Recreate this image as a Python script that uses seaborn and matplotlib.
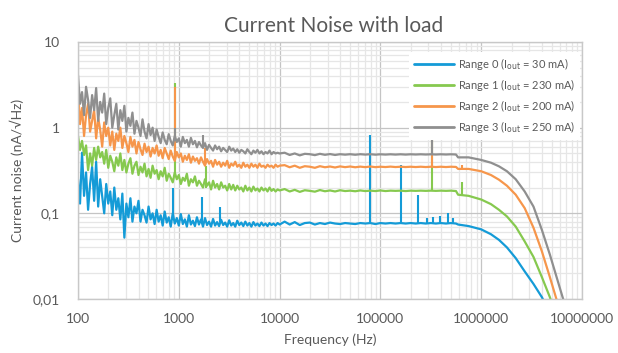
import numpy as np
import pandas as pd
import matplotlib
matplotlib.use("Agg")
import matplotlib.pyplot as plt
from matplotlib.ticker import LogLocator, NullFormatter
import seaborn as sns

# ---------------- data ----------------
series_names = ["Range 0 (I$_{\\mathrm{out}}$ = 30 mA)", "Range 1 (I$_{\\mathrm{out}}$ = 230 mA)",
                "Range 2 (I$_{\\mathrm{out}}$ = 200 mA)", "Range 3 (I$_{\\mathrm{out}}$ = 250 mA)"]
series_colors = ["#149bd7", "#86c94f", "#f6964b", "#8f8f8f"]

# noisy low-frequency part: 100 Hz .. 10 kHz (101 samples, log-spaced)
freq_low = np.logspace(2, 4, 101)
r0_low = [0.25, 0.13, 0.51, 0.16, 0.30, 0.11, 0.22, 0.35, 0.14, 0.40,
          0.12, 0.25, 0.16, 0.10, 0.22, 0.13, 0.18, 0.095, 0.20, 0.11,
          0.15, 0.085, 0.17, 0.052, 0.13, 0.09, 0.15, 0.08, 0.12, 0.10,
          0.14, 0.08, 0.11, 0.095, 0.078, 0.12, 0.085, 0.10, 0.075, 0.11,
          0.08, 0.095, 0.072, 0.105, 0.078, 0.09, 0.07, 0.10, 0.076, 0.088,
          0.072, 0.098, 0.075, 0.085, 0.07, 0.095, 0.074, 0.082, 0.071, 0.09,
          0.074, 0.085, 0.07, 0.088, 0.073, 0.08, 0.07, 0.086, 0.072, 0.079,
          0.071, 0.084, 0.073, 0.078, 0.07, 0.083, 0.072, 0.077, 0.07, 0.082,
          0.073, 0.078, 0.071, 0.08, 0.072, 0.077, 0.07, 0.079, 0.072, 0.076,
          0.071, 0.078, 0.072, 0.076, 0.071, 0.077, 0.073, 0.076, 0.072, 0.077, 0.074]
r1_low = [0.80, 0.55, 0.70, 0.48, 0.62, 0.32, 0.50, 0.36, 0.58, 0.42,
          0.60, 0.45, 0.52, 0.38, 0.55, 0.34, 0.47, 0.40, 0.31, 0.45,
          0.36, 0.50, 0.32, 0.42, 0.30, 0.38, 0.44, 0.29, 0.36, 0.40,
          0.28, 0.35, 0.30, 0.38, 0.27, 0.33, 0.26, 0.36, 0.29, 0.32,
          0.25, 0.31, 0.27, 0.34, 0.24, 0.29, 0.26, 0.23, 0.30, 0.25,
          0.28, 0.22, 0.26, 0.24, 0.29, 0.21, 0.25, 0.23, 0.27, 0.21,
          0.24, 0.22, 0.20, 0.25, 0.21, 0.23, 0.19, 0.24, 0.20, 0.22,
          0.19, 0.23, 0.20, 0.21, 0.185, 0.22, 0.19, 0.215, 0.185, 0.21,
          0.19, 0.20, 0.18, 0.21, 0.185, 0.20, 0.18, 0.205, 0.185, 0.195,
          0.18, 0.20, 0.185, 0.195, 0.18, 0.20, 0.183, 0.192, 0.18, 0.19, 0.185]
r2_low = [2.80, 1.10, 1.70, 0.80, 1.40, 1.90, 0.90, 1.20, 1.60, 0.75,
          1.30, 0.95, 0.60, 1.15, 0.80, 1.00, 0.62, 0.90, 0.55, 0.85,
          0.70, 1.00, 0.58, 0.80, 0.66, 0.52, 0.78, 0.60, 0.72, 0.50,
          0.68, 0.56, 0.48, 0.65, 0.52, 0.60, 0.46, 0.58, 0.50, 0.62,
          0.47, 0.55, 0.44, 0.58, 0.50, 0.43, 0.54, 0.46, 0.41, 0.52,
          0.45, 0.50, 0.40, 0.47, 0.42, 0.49, 0.39, 0.46, 0.41, 0.44,
          0.38, 0.45, 0.40, 0.36, 0.43, 0.38, 0.41, 0.35, 0.42, 0.37,
          0.40, 0.35, 0.39, 0.36, 0.41, 0.34, 0.38, 0.36, 0.40, 0.35,
          0.37, 0.34, 0.39, 0.35, 0.37, 0.34, 0.38, 0.35, 0.37, 0.34,
          0.38, 0.35, 0.36, 0.34, 0.37, 0.35, 0.36, 0.34, 0.37, 0.35, 0.36]
r3_low = [4.10, 1.90, 2.60, 1.40, 3.00, 2.10, 1.30, 2.40, 1.60, 2.90,
          1.20, 2.00, 1.50, 2.50, 1.10, 1.70, 2.20, 1.00, 1.40, 1.90,
          0.95, 1.60, 1.20, 1.80, 0.90, 1.30, 1.05, 1.50, 0.85, 1.20,
          1.00, 0.80, 1.25, 0.90, 0.75, 1.10, 0.82, 1.00, 0.70, 0.95,
          0.78, 0.66, 0.88, 0.72, 0.64, 0.84, 0.70, 0.62, 0.80, 0.68,
          0.75, 0.60, 0.78, 0.66, 0.72, 0.60, 0.76, 0.64, 0.70, 0.59,
          0.68, 0.62, 0.58, 0.66, 0.55, 0.63, 0.58, 0.54, 0.62, 0.56,
          0.60, 0.53, 0.58, 0.55, 0.52, 0.60, 0.54, 0.57, 0.52, 0.56,
          0.51, 0.55, 0.53, 0.50, 0.56, 0.52, 0.49, 0.54, 0.51, 0.55,
          0.50, 0.53, 0.49, 0.52, 0.50, 0.54, 0.49, 0.52, 0.50, 0.51, 0.50]

# flat mid-frequency part: ~11 kHz .. 560 kHz (35 samples, log-spaced)
freq_mid = np.logspace(4.05, 5.75, 35)
r0_mid = [0.080, 0.074, 0.079, 0.073, 0.077, 0.078, 0.074, 0.077, 0.075, 0.078, 0.076, 0.075, 0.077, 0.076,
          0.075, 0.077, 0.076, 0.077, 0.075, 0.077, 0.076, 0.077, 0.076, 0.077, 0.076, 0.077, 0.076, 0.077,
          0.076, 0.077, 0.076, 0.077, 0.076, 0.077, 0.076]
r1_mid = [0.192, 0.180, 0.188, 0.178, 0.186, 0.183, 0.179, 0.187, 0.181, 0.185, 0.180, 0.186, 0.182, 0.184,
          0.181, 0.185, 0.182, 0.184, 0.182, 0.185, 0.182, 0.184, 0.183, 0.184, 0.182, 0.184, 0.183, 0.184,
          0.183, 0.184, 0.183, 0.184, 0.183, 0.184, 0.182]
r2_mid = [0.365, 0.345, 0.36, 0.34, 0.355, 0.35, 0.34, 0.355, 0.345, 0.352, 0.343, 0.353, 0.346, 0.352,
          0.345, 0.351, 0.346, 0.352, 0.346, 0.35, 0.347, 0.351, 0.347, 0.35, 0.347, 0.35, 0.347, 0.35,
          0.347, 0.35, 0.347, 0.35, 0.347, 0.35, 0.348]
r3_mid = [0.51, 0.48, 0.50, 0.475, 0.495, 0.49, 0.478, 0.495, 0.482, 0.492, 0.48, 0.49, 0.484, 0.49,
          0.483, 0.49, 0.485, 0.49, 0.484, 0.489, 0.485, 0.489, 0.485, 0.489, 0.485, 0.489, 0.486, 0.489,
          0.486, 0.489, 0.486, 0.489, 0.486, 0.489, 0.486]

# roll-off part
freq_roll = [5.9e5, 7.5e5, 1.0e6, 1.25e6, 1.5e6, 1.8e6, 2.2e6, 2.7e6, 3.3e6, 4.0e6, 4.8e6, 5.6e6, 6.5e6, 7.5e6]
r0_roll = [0.074, 0.071, 0.065, 0.057, 0.049, 0.040, 0.030, 0.021, 0.0150, 0.0105, 0.0068, 0.0042, 0.0024, 0.0013]
r1_roll = [0.165, 0.160, 0.145, 0.128, 0.110, 0.092, 0.070, 0.047, 0.031, 0.018, 0.0105, 0.0062, 0.0035, 0.0020]
r2_roll = [0.330, 0.330, 0.310, 0.280, 0.247, 0.210, 0.165, 0.115, 0.068, 0.036, 0.018, 0.0098, 0.0050, 0.0025]
r3_roll = [0.450, 0.450, 0.420, 0.390, 0.354, 0.310, 0.250, 0.180, 0.120, 0.064, 0.033, 0.018, 0.0100, 0.0050]

# narrow spectral spikes: frequency, base level, peak level
r0_spike_f = [870, 1.7e3, 2.56e3, 7.88e4, 1.6e5, 2.36e5, 2.9e5, 3.3e5, 3.9e5, 4.7e5, 5.2e5]
r0_spike_lo = [0.09, 0.08, 0.08, 0.077, 0.077, 0.077, 0.077, 0.077, 0.077, 0.077, 0.077]
r0_spike_hi = [0.20, 0.157, 0.12, 0.83, 0.37, 0.165, 0.088, 0.09, 0.092, 0.10, 0.088]
r1_spike_f = [915, 1.85e3, 3.25e5, 6.45e5]
r1_spike_lo = [0.27, 0.20, 0.185, 0.165]
r1_spike_hi = [3.3, 0.36, 1.0, 0.23]
r2_spike_f = [915, 1.8e3, 3.25e5, 6.4e5]
r2_spike_lo = [0.45, 0.37, 0.35, 0.33]
r2_spike_hi = [3.0, 0.58, 1.0, 0.37]
r3_spike_f = [915, 1.74e3, 3.25e5]
r3_spike_lo = [0.70, 0.60, 0.49]
r3_spike_hi = [1.0, 0.83, 1.0]

x_tick_values = [1e2, 1e3, 1e4, 1e5, 1e6, 1e7]
x_tick_labels = ["100", "1000", "10000", "100000", "1000000", "10000000"]
y_tick_values = [0.01, 0.1, 1, 10]
y_tick_labels = ["0,01", "0,1", "1", "10"]

# ---------------- build table ----------------
lows = [r0_low, r1_low, r2_low, r3_low]
mids = [r0_mid, r1_mid, r2_mid, r3_mid]
rolls = [r0_roll, r1_roll, r2_roll, r3_roll]
spikes = [(r0_spike_f, r0_spike_lo, r0_spike_hi), (r1_spike_f, r1_spike_lo, r1_spike_hi),
          (r2_spike_f, r2_spike_lo, r2_spike_hi), (r3_spike_f, r3_spike_lo, r3_spike_hi)]
frames = []
for name, lo, mi, ro in zip(series_names, lows, mids, rolls):
    f = np.concatenate([freq_low, freq_mid, freq_roll])
    v = np.concatenate([lo, mi, ro])
    frames.append(pd.DataFrame({"freq": f, "noise": v, "series": name}))
df = pd.concat(frames, ignore_index=True)

# ---------------- plot ----------------
sns.set_theme(style="white")
plt.rcParams["font.family"] = ["Lato", "DejaVu Sans"]
plt.rcParams["mathtext.default"] = "regular"
text_color = "#595959"

fig = plt.figure(figsize=(6.18, 3.53), dpi=100)
ax = fig.add_axes([78 / 618, 1 - 299 / 353, 504 / 618, 257 / 353])

ax.set_xscale("log")
ax.set_yscale("log")

for name, color, (sf, slo, shi) in zip(series_names, series_colors, spikes):
    sub = df[df["series"] == name]
    sns.lineplot(data=sub, x="freq", y="noise", ax=ax, color=color, lw=1.6,
                 sort=False, estimator=None, label=name)
    ax.vlines(sf, slo, shi, colors=color, lw=1.5)

ax.set_xlim(1e2, 1e7)
ax.set_ylim(0.01, 10)

ax.set_xticks(x_tick_values)
ax.set_xticklabels(x_tick_labels)
ax.set_yticks(y_tick_values)
ax.set_yticklabels(y_tick_labels)
ax.xaxis.set_minor_locator(LogLocator(base=10, subs=np.arange(2, 10)))
ax.yaxis.set_minor_locator(LogLocator(base=10, subs=np.arange(2, 10)))
ax.xaxis.set_minor_formatter(NullFormatter())
ax.yaxis.set_minor_formatter(NullFormatter())
ax.tick_params(axis="both", which="both", length=0, colors=text_color, labelsize=10)
ax.tick_params(axis="y", pad=13)
ax.tick_params(axis="x", pad=10)

ax.grid(True, which="major", color="#c4c4c4", lw=0.9)
ax.grid(True, which="minor", color="#e6e6e6", lw=0.9)
ax.set_axisbelow(True)
for s in ax.spines.values():
    s.set_color("#c8c8c8")
    s.set_linewidth(1.0)

ax.set_xlabel("Frequency (Hz)", color=text_color, fontsize=10, labelpad=6)
ax.set_ylabel("Current noise (nA/\u221aHz)", color=text_color, fontsize=10, labelpad=6)
fig.text(0.54, 0.925, "Current Noise with load", ha="center", va="center",
         color=text_color, fontsize=15)

leg = ax.legend(loc="upper right", bbox_to_anchor=(1.0, 0.97), frameon=True, fontsize=8,
                handlelength=3.6, handletextpad=0.4, labelspacing=0.45, borderpad=0.4,
                borderaxespad=0.2)
leg.get_frame().set_facecolor("white")
leg.get_frame().set_edgecolor("none")
leg.get_frame().set_alpha(1.0)
for t in leg.get_texts():
    t.set_color(text_color)
for h in leg.legend_handles:
    h.set_linewidth(2.0)

fig.savefig("out.png", dpi=100, facecolor="white")
